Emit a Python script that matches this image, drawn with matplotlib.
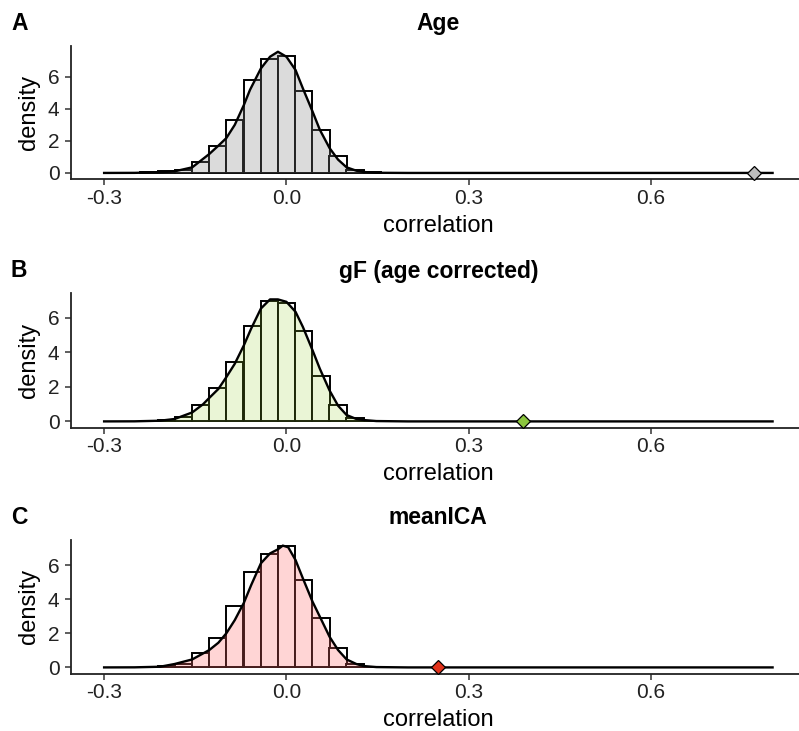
import numpy as np
import matplotlib
matplotlib.use("Agg")
import matplotlib.pyplot as plt

plt.rcParams["font.family"] = ["Liberation Sans", "DejaVu Sans"]

# Histogram bins of the permutation correlations
bin_centers = [-0.227, -0.198, -0.170, -0.141, -0.113, -0.085, -0.056, -0.028,
               0.000, 0.028, 0.057, 0.085, 0.113, 0.141]
bin_width = 0.0283

age_hist = [0.03, 0.10, 0.19, 0.66, 1.70, 3.29, 5.80, 7.08, 7.29, 5.11, 2.69, 1.06, 0.19, 0.05]
gf_hist = [0.02, 0.06, 0.26, 0.95, 1.94, 3.42, 5.51, 7.00, 6.89, 5.22, 2.64, 0.95, 0.17, 0.04]
ica_hist = [0.02, 0.08, 0.22, 0.82, 1.75, 3.61, 5.61, 6.67, 7.16, 5.14, 2.88, 1.12, 0.20, 0.04]

# Density curves (x positions and density values)
age_dx = [-0.300, -0.250, -0.208, -0.184, -0.155, -0.1425, -0.127, -0.112, -0.099, -0.085,
          -0.070, -0.060, -0.042, -0.027, -0.014, 0.000, 0.015, 0.027, 0.043, 0.055,
          0.071, 0.085, 0.099, 0.115, 0.127, 0.148, 0.200, 0.800]
age_dy = [0.0, 0.005, 0.04, 0.10, 0.35, 0.72, 1.18, 1.70, 2.17, 3.00,
          4.24, 5.18, 6.52, 7.25, 7.56, 7.25, 6.42, 5.28, 3.83, 2.69,
          1.55, 0.83, 0.35, 0.14, 0.06, 0.01, 0.0, 0.0]

gf_dx = [-0.300, -0.250, -0.208, -0.184, -0.155, -0.137, -0.127, -0.112, -0.099, -0.085,
         -0.070, -0.058, -0.042, -0.027, -0.014, 0.000, 0.015, 0.027, 0.043, 0.055,
         0.071, 0.085, 0.099, 0.115, 0.127, 0.148, 0.200, 0.800]
gf_dy = [0.0, 0.005, 0.04, 0.14, 0.52, 1.00, 1.36, 1.88, 2.56, 3.34,
         4.41, 5.38, 6.54, 7.07, 7.07, 6.93, 6.35, 5.48, 4.12, 3.05,
         1.79, 0.91, 0.37, 0.14, 0.08, 0.02, 0.0, 0.0]

ica_dx = [-0.300, -0.250, -0.208, -0.184, -0.155, -0.127, -0.112, -0.099, -0.085, -0.070,
          -0.058, -0.042, -0.027, -0.014, -0.006, 0.003, 0.015, 0.027, 0.043, 0.055,
          0.071, 0.085, 0.099, 0.115, 0.127, 0.148, 0.200, 0.800]
ica_dy = [0.0, 0.005, 0.04, 0.20, 0.47, 1.02, 1.45, 2.00, 2.78, 3.80,
          4.84, 6.12, 6.70, 6.94, 7.16, 7.06, 6.31, 5.24, 3.86, 2.98,
          1.80, 1.02, 0.47, 0.20, 0.08, 0.02, 0.0, 0.0]

# Observed correlations
observed = [0.77, 0.39, 0.25]

titles = ["Age", "gF (age corrected)", "meanICA"]
letters = ["A", "B", "C"]
fill_colors = [("#808080", 0.28), ("#9acd32", 0.20), ("#ff6a6a", 0.28)]
point_colors = ["#bdbdbd", "#8cc63f", "#e2321b"]
x_ticks = [-0.3, 0.0, 0.3, 0.6]
x_tick_labels = ["-0.3", "0.0", "0.3", "0.6"]
y_ticks = [0, 2, 4, 6]

hists = [age_hist, gf_hist, ica_hist]
curves = [(age_dx, age_dy), (gf_dx, gf_dy), (ica_dx, ica_dy)]

W, H = 799, 731
fig = plt.figure(figsize=(W / 100, H / 100), dpi=100)

# panel boxes in pixels: (left, top, right, bottom)
boxes = [(70.7, 45.7, 806, 179), (70.7, 293.3, 806, 427.5), (70.7, 539.5, 806, 673.5)]

for i in range(3):
    l, t, r, b = boxes[i]
    ax = fig.add_axes([l / W, 1 - b / H, (r - l) / W, (b - t) / H])
    dx, dy = curves[i]
    # histogram
    ax.bar(bin_centers, hists[i], width=bin_width, color="white",
           edgecolor="black", linewidth=1.4, zorder=1)
    # density
    col, alpha = fill_colors[i]
    ax.fill_between(dx, 0, dy, color=col, alpha=alpha, linewidth=0, zorder=2)
    ax.plot(dx, dy, color="black", linewidth=1.7, zorder=3, solid_joinstyle="round")
    # observed value
    ax.plot([observed[i]], [0], marker="D", markersize=7, color=point_colors[i],
            markeredgecolor="black", markeredgewidth=0.9, zorder=4, clip_on=False)

    xmin, xmax = -0.3, 0.8
    xr = xmax - xmin
    ax.set_xlim(xmin - 0.05 * xr, xmax + 0.05 * xr)
    ymax = max(max(dy), max(hists[i]))
    ax.set_ylim(-0.05 * ymax, 1.05 * ymax)

    ax.set_xticks(x_ticks)
    ax.set_xticklabels(x_tick_labels)
    ax.set_yticks(y_ticks)
    ax.tick_params(axis="both", labelsize=15, length=4, width=1.1, color="#333333",
                   labelcolor="#222222")
    ax.tick_params(axis="x", pad=3)
    ax.tick_params(axis="y", pad=4)
    for s in ["top", "right"]:
        ax.spines[s].set_visible(False)
    for s in ["left", "bottom"]:
        ax.spines[s].set_linewidth(1.3)
        ax.spines[s].set_color("#222222")
    ax.set_xlabel("correlation", fontsize=17, labelpad=5)
    ax.set_ylabel("density", fontsize=17, labelpad=6)
    ax.set_title(titles[i], fontsize=16.5, fontweight="bold", pad=11)
    fig.text(11 / W, 1 - (t - 16) / H, letters[i], fontsize=16.5, fontweight="bold",
             ha="left", va="baseline")

fig.savefig("out.png", dpi=100)
